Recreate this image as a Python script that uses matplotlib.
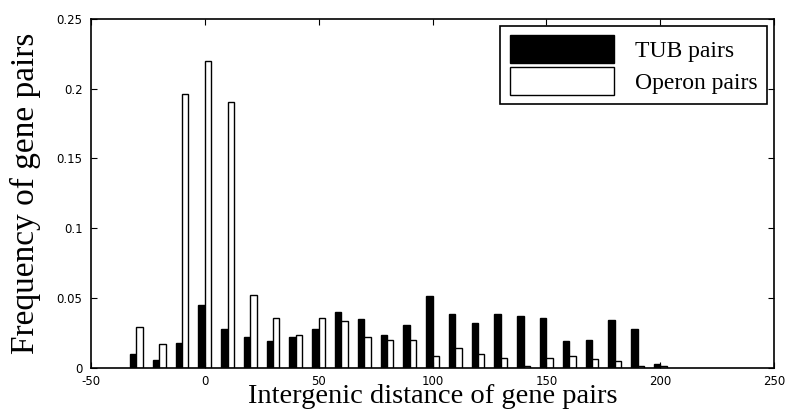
# Intergenic distance histogram, TUB pairs vs operon pairs

import numpy as np
import matplotlib.pyplot as plt

plt.rcParams['axes.unicode_minus'] = False

# Bin centres (bp) and frequencies.
distance = [-30, -20, -10, 0, 10, 20, 30, 40, 50, 60, 70, 80,
            90, 100, 110, 120, 130, 140, 150, 160, 170, 180, 190, 200]
tub_pairs = [0.010, 0.0057, 0.018, 0.0448, 0.028, 0.0222, 0.0193, 0.0222,
             0.028, 0.0403, 0.0347, 0.0238, 0.0306, 0.0514, 0.0388, 0.0323,
             0.0388, 0.0373, 0.0359, 0.0189, 0.0203, 0.0344, 0.0278, 0.0026]
operon_pairs = [0.0292, 0.017, 0.1965, 0.2195, 0.1906, 0.0519, 0.0358, 0.0236,
                0.0358, 0.0337, 0.0219, 0.020, 0.0201, 0.0086, 0.0144, 0.010,
                0.0072, 0.0012, 0.0072, 0.0086, 0.0065, 0.0048, 0.0012, 0.0012]

xticks = [-50, 0, 50, 100, 150, 200, 250]
yticks = [0, 0.05, 0.1, 0.15, 0.2, 0.25]
ytick_labels = ['0', '0.05', '0.1', '0.15', '0.2', '0.25']

fig = plt.figure(figsize=(7.9, 4.11), dpi=100)
ax = fig.add_axes([0.115, 0.105, 0.865, 0.849])

x = np.array(distance)
w = 2.8
ax.bar(x - w / 2, tub_pairs, width=w, color='black', edgecolor='black',
       linewidth=1, label='TUB pairs')
ax.bar(x + w / 2, operon_pairs, width=w, color='white', edgecolor='black',
       linewidth=1, label='Operon pairs')

ax.set_xlim(-50, 250)
ax.set_ylim(0, 0.25)
ax.set_xticks(xticks)
ax.set_yticks(yticks)
ax.set_yticklabels(ytick_labels)
ax.tick_params(direction='in', top=True, right=True, labelsize=8.5, length=4)
ax.tick_params(axis='y', pad=6)
ax.tick_params(axis='x', pad=5)

for s in ax.spines.values():
    s.set_linewidth(1.2)

ax.set_xlabel('Intergenic distance of gene pairs', family='Liberation Serif',
              fontsize=20.5, labelpad=-2.5)
ax.set_ylabel('Frequency of gene pairs', family='Liberation Serif',
              fontsize=24, labelpad=11)

leg = ax.legend(loc='upper right', prop={'family': 'Liberation Serif', 'size': 17},
                handlelength=4.4, handleheight=1.45, labelspacing=0.15,
                handletextpad=0.9, fancybox=False, edgecolor='black',
                framealpha=1, borderaxespad=0.3)
leg.get_frame().set_linewidth(1.2)

plt.savefig('out.png')
